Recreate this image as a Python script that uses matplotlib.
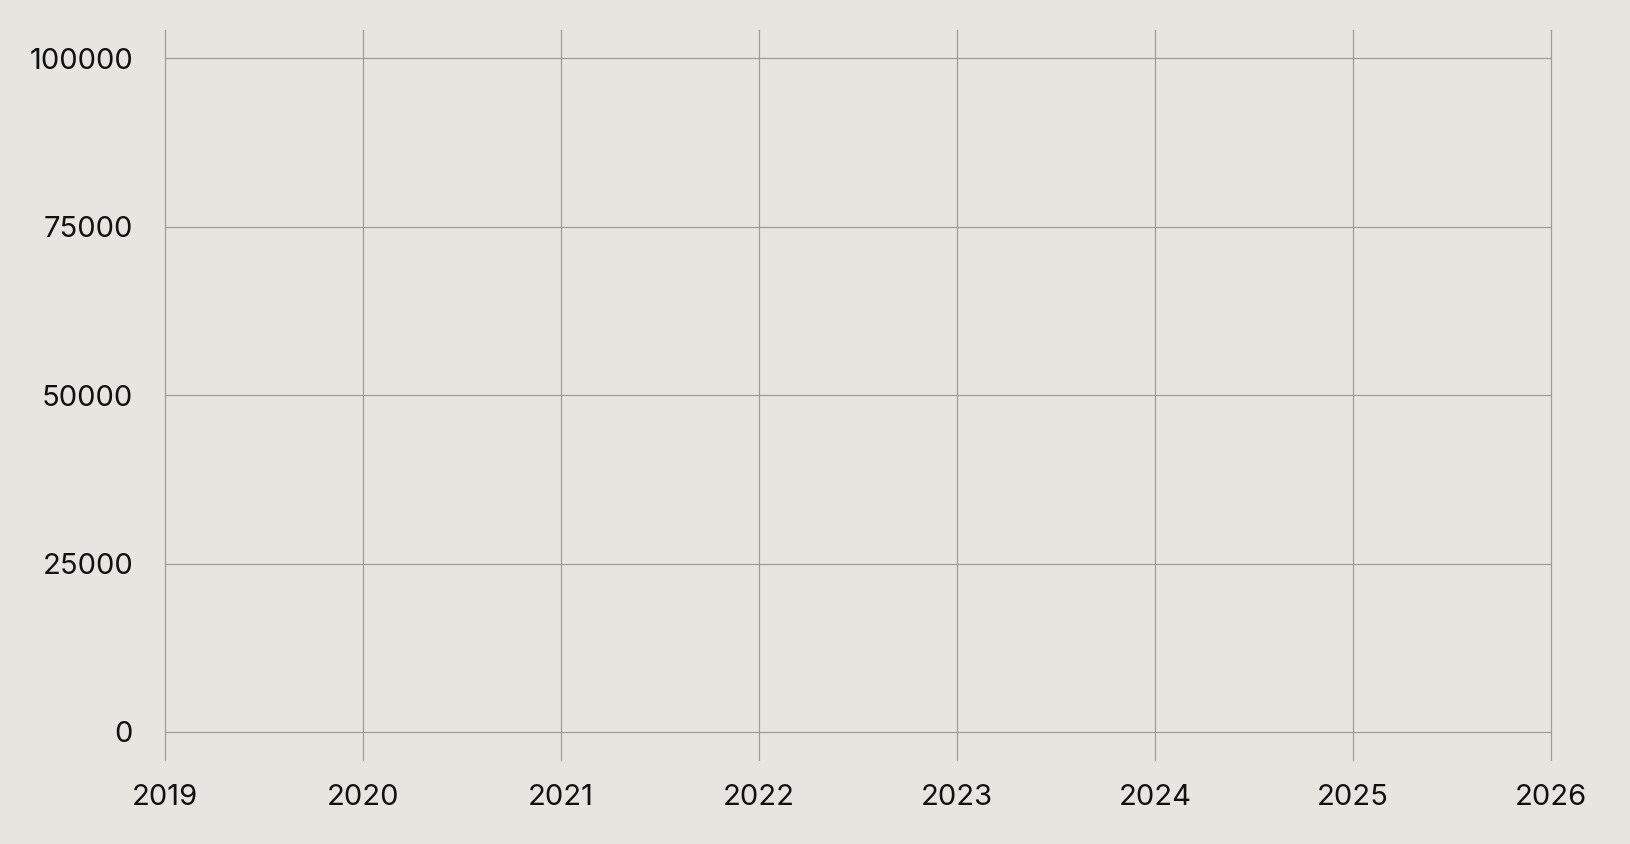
import matplotlib
matplotlib.use("Agg")
import matplotlib.pyplot as plt

years = [2019, 2020, 2021, 2022, 2023, 2024, 2025, 2026]
y_ticks = [0, 25000, 50000, 75000, 100000]
y_labels = ["0", "25000", "50000", "75000", "100000"]

W, H, DPI = 1630, 844, 100
bg = "#e6e5e0"
grid_color = "#9d9d9a"

plt.rcParams['font.family'] = ['Inter', 'DejaVu Sans']
fig = plt.figure(figsize=(W / DPI, H / DPI), dpi=DPI, facecolor=bg)
left, right, top, bottom = 165, 1551, 30, 760
ax = fig.add_axes([left / W, 1 - bottom / H, (right - left) / W, (bottom - top) / H])
ax.set_facecolor(bg)

ax.set_xlim(years[0], years[-1])
ax.set_ylim(-4160, 104200)

for y in y_ticks:
    ax.hlines(y, years[0], years[-1], color=grid_color, lw=0.9, zorder=1, clip_on=False)
for x in years:
    ax.axvline(x, color=grid_color, lw=0.9, zorder=1, clip_on=False)

ax.set_xticks(years)
ax.set_xticklabels([str(y) for y in years])
ax.set_yticks(y_ticks)
ax.set_yticklabels(y_labels)
ax.tick_params(axis='both', length=0, labelsize=21, colors='#111111')
ax.tick_params(axis='x', pad=17)
ax.tick_params(axis='y', pad=23)
for s in ax.spines.values():
    s.set_visible(False)

fig.savefig("out.png", dpi=DPI, facecolor=bg)
